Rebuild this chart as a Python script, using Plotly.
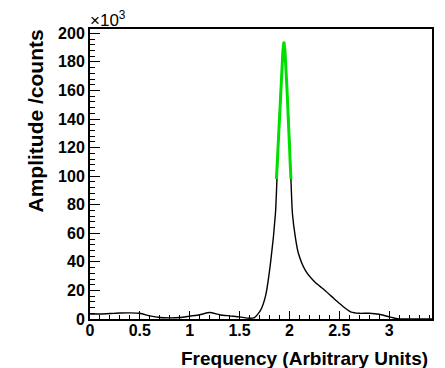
import plotly.graph_objects as go

# Black measured curve (x in arbitrary units, amplitude in thousands of counts)
data_x = [0.0, 0.1, 0.2, 0.3, 0.4, 0.5, 0.6, 0.7, 0.8, 0.9, 1.0, 1.1, 1.2, 1.3, 1.4,
          1.5, 1.6, 1.65, 1.71, 1.76, 1.81, 1.86, 1.875, 1.89, 1.915, 1.935, 1.945,
          1.955, 1.975, 2.0, 2.015, 2.03, 2.06, 2.09, 2.16, 2.26, 2.34, 2.42, 2.5,
          2.56, 2.62, 2.7, 2.8, 2.9, 3.0, 3.08, 3.15, 3.3, 3.43]
data_y = [3.5, 3.5, 3.8, 4.2, 4.3, 4.0, 2.2, 1.0, 0.8, 1.0, 2.0, 3.0, 4.5, 3.0, 2.2,
          1.5, 0.5, 1.0, 6.0, 16.0, 39.0, 74.0, 98.0, 127.0, 162.0, 188.0, 194.0,
          188.0, 162.0, 127.0, 98.0, 74.0, 57.0, 46.0, 34.0, 25.5, 21.0, 16.0, 11.0,
          7.5, 4.8, 4.0, 4.0, 3.3, 1.5, 0.2, 0.0, 0.0, 0.0]

# Green fit around the peak
fit_x = [1.87, 1.89, 1.915, 1.935, 1.945, 1.955, 1.975, 2.0, 2.015]
fit_y = [98.0, 127.0, 162.0, 188.0, 194.0, 188.0, 162.0, 127.0, 98.0]

x_ticks = [0, 0.5, 1, 1.5, 2, 2.5, 3]
x_labels = ["0", "0.5", "1", "1.5", "2", "2.5", "3"]
y_ticks = [0, 20, 40, 60, 80, 100, 120, 140, 160, 180, 200]
y_labels = [str(v) for v in y_ticks]

FONT = "Liberation Sans, Arial, Helvetica, sans-serif"

fig = go.Figure()
fig.add_trace(go.Scatter(x=data_x, y=data_y, mode="lines",
                         line=dict(color="black", width=1.4, shape="spline", smoothing=0.6),
                         hoverinfo="skip", showlegend=False))
fig.add_trace(go.Scatter(x=fit_x, y=fit_y, mode="lines",
                         line=dict(color="#00e000", width=3),
                         hoverinfo="skip", showlegend=False))

fig.update_layout(
    width=445, height=368,
    margin=dict(l=90, r=11, t=29, b=49),
    plot_bgcolor="white", paper_bgcolor="white",
    font=dict(family=FONT, color="black"),
    xaxis=dict(range=[0, 3.43], tickvals=x_ticks, ticktext=x_labels,
               ticks="inside", ticklen=8, tickwidth=1, tickcolor="black",
               minor=dict(dtick=0.1, tick0=0, ticks="inside", ticklen=4, tickcolor="black"),
               showline=True, linecolor="black", linewidth=2, mirror=True,
               showgrid=False, zeroline=False, ticklabelstandoff=-4,
               tickfont=dict(family=FONT, size=16, color="black", weight="bold")),
    yaxis=dict(range=[0, 203], tickvals=y_ticks, ticktext=y_labels,
               ticks="inside", ticklen=10, tickwidth=1, tickcolor="black",
               minor=dict(dtick=4, tick0=0, ticks="inside", ticklen=5, tickcolor="black"),
               showline=True, linecolor="black", linewidth=2, mirror=True,
               showgrid=False, zeroline=False,
               tickfont=dict(family=FONT, size=16, color="black", weight="bold")),
    annotations=[
        dict(text="<b>Frequency (Arbitrary Units)</b>", xref="paper", yref="paper",
             x=1.0, y=0, xanchor="right", yanchor="middle", yshift=-39, xshift=-2,
             showarrow=False, font=dict(family=FONT, size=19, color="black")),
        dict(text="<b>Amplitude /counts</b>", xref="paper", yref="paper",
             x=0, y=1.0, xanchor="center", yanchor="top", xshift=-55, yshift=1,
             textangle=-90, showarrow=False, font=dict(family=FONT, size=21, color="black")),
        dict(text="×10<sup>3</sup>", xref="paper", yref="paper",
             x=0, y=1.0, xanchor="left", yanchor="bottom", xshift=-2, yshift=-3,
             showarrow=False, font=dict(family=FONT, size=17, color="black")),
    ],
)

fig.write_html(
    "out.html",
    config={"displayModeBar": False},
    post_script="document.body.style.margin='0';document.body.style.overflow='hidden';",
)
